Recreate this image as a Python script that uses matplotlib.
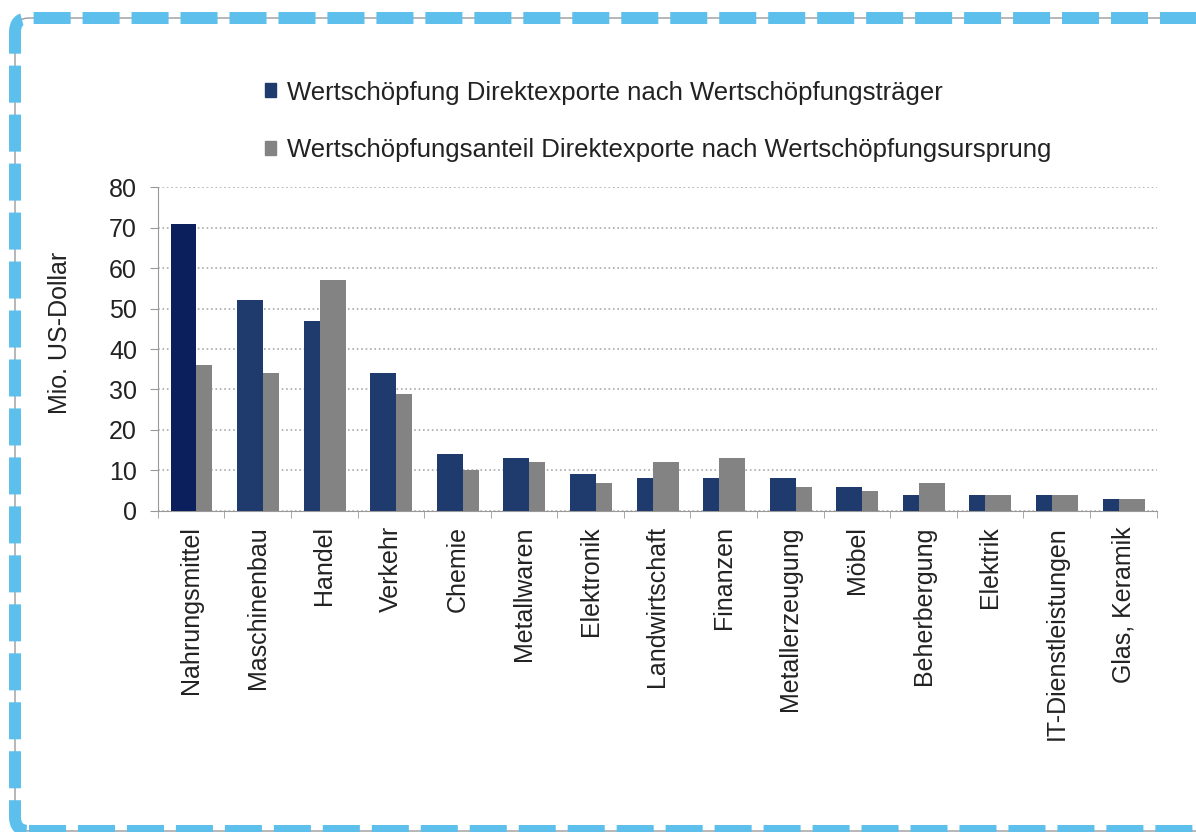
import matplotlib
matplotlib.use("Agg")
import matplotlib.pyplot as plt
import numpy as np
from matplotlib.patches import Patch, FancyBboxPatch

plt.rcParams['font.family'] = ['Liberation Sans', 'DejaVu Sans']

categories = ['Nahrungsmittel', 'Maschinenbau', 'Handel', 'Verkehr', 'Chemie',
              'Metallwaren', 'Elektronik', 'Landwirtschaft', 'Finanzen',
              'Metallerzeugung', 'Möbel', 'Beherbergung', 'Elektrik',
              'IT-Dienstleistungen', 'Glas, Keramik']
traeger = [71, 52, 47, 34, 14, 13, 9, 8, 8, 8, 6, 4, 4, 4, 3]
ursprung = [36, 34, 57, 29, 10, 12, 7, 12, 13, 6, 5, 7, 4, 4, 3]
yticks = [0, 10, 20, 30, 40, 50, 60, 70, 80]

label_a = 'Wertschöpfung Direktexporte nach Wertschöpfungsträger'
label_b = 'Wertschöpfungsanteil Direktexporte nach Wertschöpfungsursprung'
blue = '#1f3a6c'
blue_first = '#0b1f5c'
gray = '#838383'

fig = plt.figure(figsize=(11.96, 8.32), dpi=100)
ax = fig.add_axes([0.132, 0.386, 0.835, 0.389])

x = np.arange(len(categories))
w = 0.39
b1 = ax.bar(x - 0.115, traeger, w, color=[blue_first] + [blue] * (len(x) - 1))
b2 = ax.bar(x + 0.125, ursprung, w, color=gray)
# taller bar of each pair sits in front
for r1, r2, a, b in zip(b1, b2, traeger, ursprung):
    if a > b:
        r1.set_zorder(4); r2.set_zorder(3)
    else:
        r1.set_zorder(3); r2.set_zorder(4)

ax.set_xlim(-0.5, len(x) - 0.5)
ax.set_ylim(0, 80)
ax.set_yticks(yticks)
ax.tick_params(axis='y', labelsize=18, length=6, color='#999999', pad=9,
               labelcolor='#222222')
ax.set_xticks(x)
ax.set_xticklabels(categories, rotation=90, fontsize=18, color='#222222')
ax.tick_params(axis='x', length=0, pad=11)
ax.set_xticks(np.arange(len(x) + 1) - 0.5, minor=True)
ax.tick_params(axis='x', which='minor', length=5, color='#999999')
ax.yaxis.grid(True, linestyle=':', color='#aaaaaa', linewidth=1.2)
ax.set_axisbelow(True)
for s in ['top', 'right']:
    ax.spines[s].set_visible(False)
for s in ['left', 'bottom']:
    ax.spines[s].set_color('#999999')
ax.set_ylabel('Mio. US-Dollar', fontsize=18, color='#222222')
ax.yaxis.set_label_coords(-0.086, 0.55)

handles = [Patch(color=blue), Patch(color=gray)]
leg = fig.legend(handles, [label_a, label_b], loc='upper left',
                 bbox_to_anchor=(0.202, 0.931), frameon=False, fontsize=18.5,
                 handlelength=0.45, handleheight=0.45, handletextpad=0.4,
                 labelspacing=1.3)
for t in leg.get_texts():
    t.set_color('#222222')

# dashed frame, right and bottom edges run off the image
frame_kw = dict(boxstyle='round,pad=0,rounding_size=14', transform=None,
                fill=False)
fig.patches.append(FancyBboxPatch((15, 1), 1200, 813, linewidth=1,
                                  edgecolor='#9a9a9a', **frame_kw))
fig.patches.append(FancyBboxPatch((15, 1), 1200, 813, linewidth=8.6,
                                  edgecolor='#5cbfec',
                                  linestyle=(0, (3.1, 1.0)), **frame_kw))

fig.savefig('out.png', dpi=100)
